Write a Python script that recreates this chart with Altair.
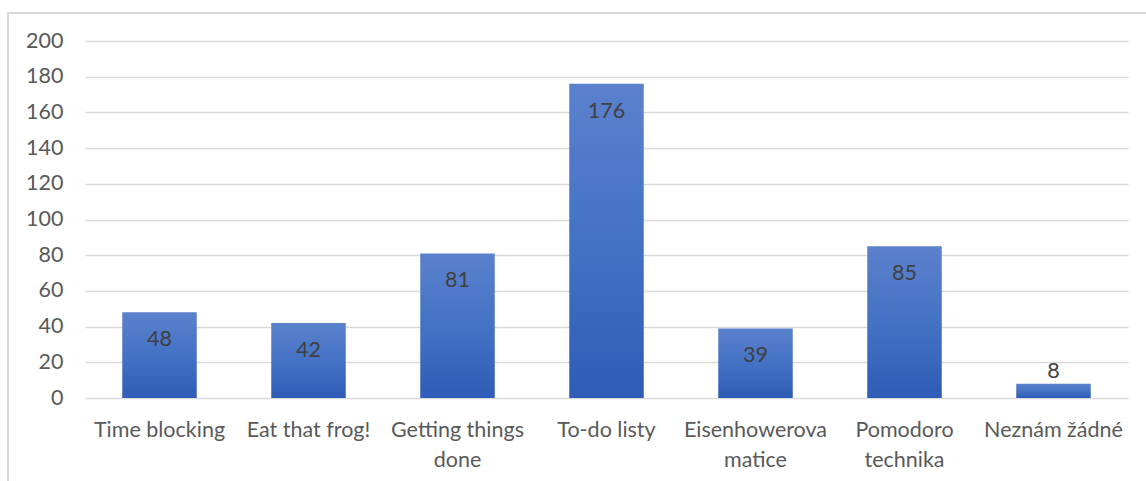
import altair as alt
import pandas as pd

categories = ["Time blocking", "Eat that frog!", "Getting things done", "To-do listy",
              "Eisenhowerova matice", "Pomodoro technika", "Neznám žádné"]
counts = [48, 42, 81, 176, 39, 85, 8]
tick_lines = [["Time blocking"], ["Eat that frog!"], ["Getting things", "done"], ["To-do listy"],
              ["Eisenhowerova", "matice"], ["Pomodoro", "technika"], ["Neznám žádné"]]
y_ticks = [0, 20, 40, 60, 80, 100, 120, 140, 160, 180, 200]

df = pd.DataFrame({"cat": categories, "n": counts})

def js(s):
    return "'" + s.replace("'", "\\'") + "'"

expr = "datum.label"
for c, lines in zip(categories, tick_lines):
    if len(lines) > 1:
        arr = "[" + ", ".join(js(l) for l in lines) + "]"
        expr = f"datum.label == {js(c)} ? {arr} : ({expr})"

FONT = "Lato"
GRID = "#d9d9d9"
TXT = "#595959"
FS = 21.5

x = alt.X("cat:N", sort=categories, title=None,
          scale=alt.Scale(paddingInner=0.5, paddingOuter=0.25),
          axis=alt.Axis(labelAngle=0, labelExpr=expr, labelFontSize=FS, labelColor=TXT,
                        labelFont=FONT, labelPadding=21, labelLineHeight=30, ticks=False,
                        domain=False, labelBaseline="top", labelOverlap=False))
y = alt.Y("n:Q", title=None, scale=alt.Scale(domain=[0, 200], nice=False),
          axis=alt.Axis(values=y_ticks, tickCount=11, labelFontSize=FS, labelColor=TXT,
                        labelFont=FONT, labelPadding=22, ticks=False, domain=False,
                        gridColor=GRID, gridWidth=1.5, labelOverlap=False, labelFlush=False))

frame = alt.Chart(df).mark_rect(fill="transparent", stroke=GRID, strokeWidth=1.2).encode(
    x=alt.value(-77), x2=alt.value(1070), y=alt.value(-28), y2=alt.value(460))

bars = alt.Chart(df).mark_bar(
    color=alt.Gradient(gradient="linear", x1=0, y1=0, x2=0, y2=1,
                       stops=[alt.GradientStop(offset=0, color="#5b81cd"),
                              alt.GradientStop(offset=0.5, color="#4472c4"),
                              alt.GradientStop(offset=1, color="#2e5cb6")])
).encode(x=x, y=y)

inside = alt.Chart(df).transform_filter("datum.n >= 20").mark_text(
    baseline="middle", dy=28, fontSize=FS, font=FONT, color="#404040"
).encode(x=x, y=y, text="n:Q")

outside = alt.Chart(df).transform_filter("datum.n < 20").mark_text(
    baseline="middle", dy=-12, fontSize=FS, font=FONT, color="#404040"
).encode(x=x, y=y, text="n:Q")

chart = alt.layer(frame, bars, inside, outside).properties(
    width=1043, height=357,
    padding={"left": 85, "top": 41, "right": 18, "bottom": 83},
    autosize=alt.AutoSizeParams(type="none"),
    background="white"
).configure_view(stroke=None)

chart.save("out.html", embed_options={"renderer": "svg", "actions": False})
